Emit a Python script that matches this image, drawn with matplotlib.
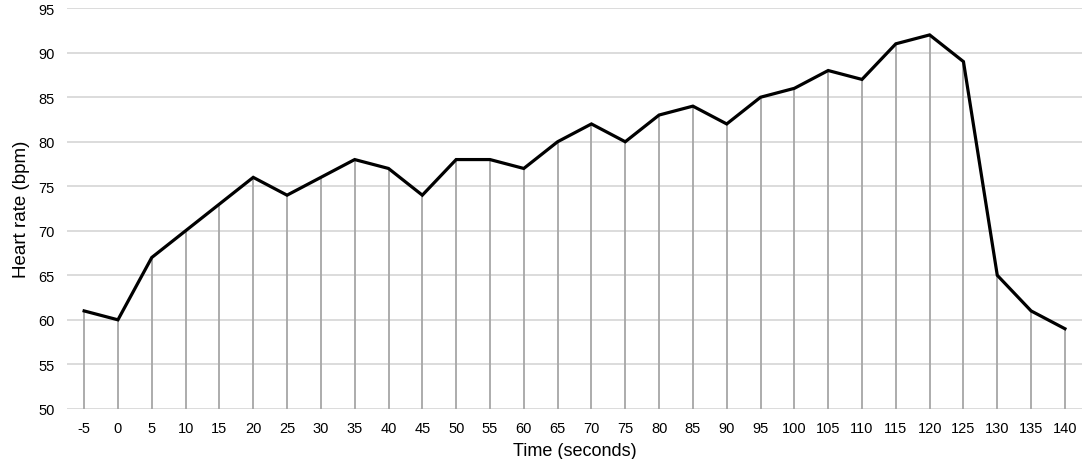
import matplotlib
matplotlib.use("Agg")
import matplotlib.pyplot as plt

# Heart rate over time
time_s = [-5, 0, 5, 10, 15, 20, 25, 30, 35, 40, 45, 50, 55, 60, 65,
          70, 75, 80, 85, 90, 95, 100, 105, 110, 115, 120, 125, 130, 135, 140]
heart_rate = [61, 60, 67, 70, 73, 76, 74, 76, 78, 77, 74, 78, 78, 77, 80,
              82, 80, 83, 84, 82, 85, 86, 88, 87, 91, 92, 89, 65, 61, 59]

plt.rcParams['font.family'] = ['Liberation Sans', 'DejaVu Sans']

fig = plt.figure(figsize=(10.84, 4.6), dpi=100)
ax = fig.add_axes([0.062, 0.109, 0.936, 0.871])

# grid lines
for yv in range(50, 96, 5):
    ax.axhline(yv, color='#d9d9d9', lw=1.3, zorder=0)

# drop lines from each point to the axis
ax.vlines(time_s, 50, heart_rate, color='#a6a6a6', lw=1.3, zorder=1)
ax.plot(time_s, heart_rate, color='black', lw=2.3, zorder=3,
        solid_joinstyle='miter')

ax.set_xlim(-7.5, 142.5)
ax.set_ylim(50, 95)
ax.set_xticks(time_s)
ax.set_xticklabels([str(t) for t in time_s])
ax.set_yticks(range(50, 96, 5))
for s in ax.spines.values():
    s.set_visible(False)
ax.tick_params(length=0, labelsize=10.5, colors='black', pad=9)
ax.tick_params(axis='y', pad=9)
ax.set_xlabel("Time (seconds)", fontsize=13, labelpad=5)
ax.set_ylabel("Heart rate (bpm)", fontsize=13.5, labelpad=6)

fig.savefig("out.png", dpi=100)
